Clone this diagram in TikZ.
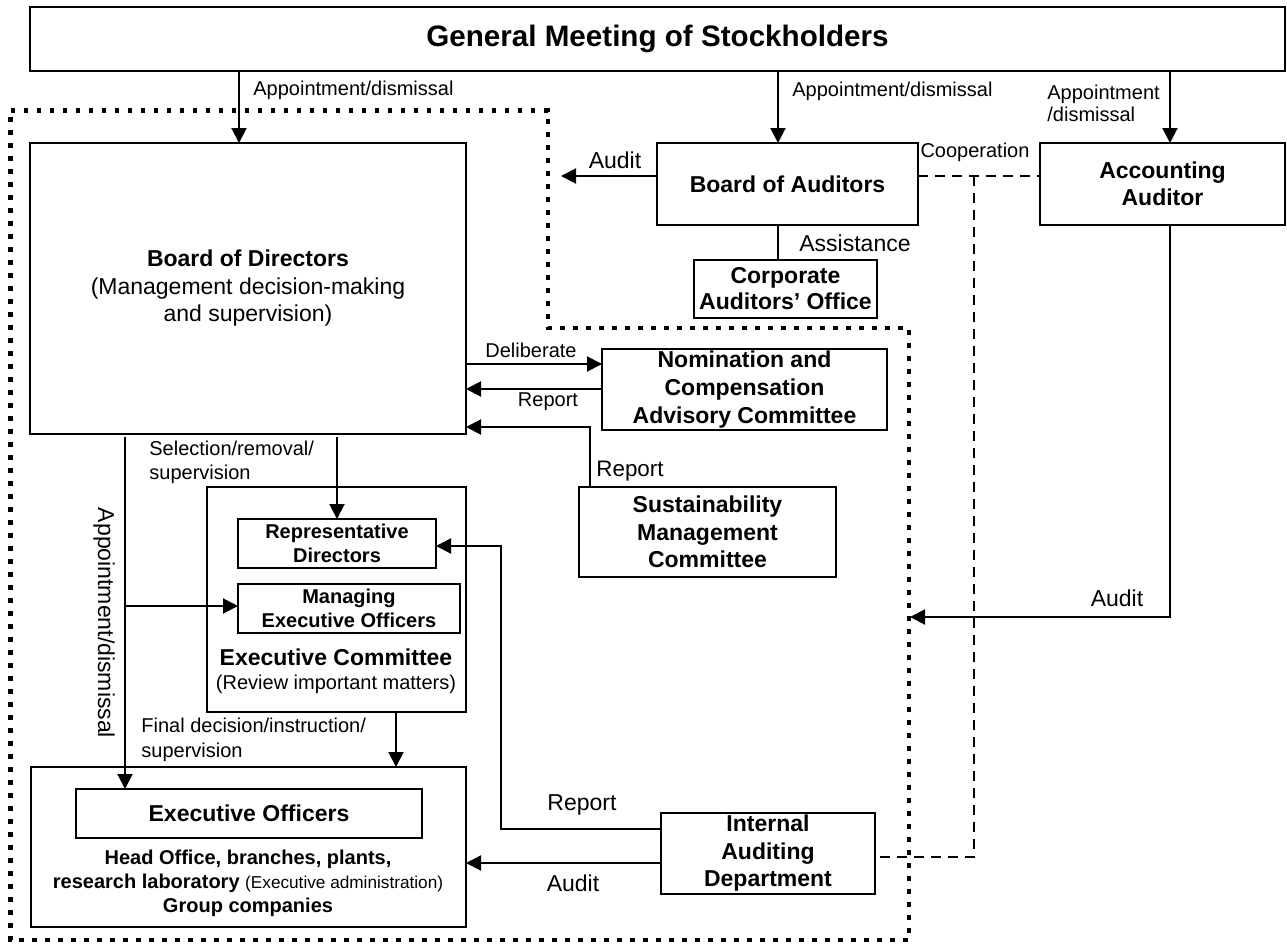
\documentclass[tikz,border=0pt]{standalone}
\usepackage{fontspec}
\setmainfont{Liberation Sans}
\usetikzlibrary{arrows.meta,calc}
\newcommand\mkbox[7]{\node[box,#6,minimum width={(#4-#2)*0.5pt},minimum height={(#5-#3)*0.5pt}] (#1) at ({(#2+#4)/2},{(#3+#5)/2}) {#7};}
\begin{document}
\begin{tikzpicture}[x=0.5pt,y=-0.5pt,
  box/.style={draw,line width=1pt,inner sep=0pt,outer sep=0pt,align=center},
  arr/.style={line width=1pt,-{Triangle[length=7.5pt,width=7.5pt]}},
  ln/.style={line width=1pt},
  coop/.style={line width=1pt,dash pattern=on 5pt off 3.5pt},
  dots/.style={line width=2.3pt,dash pattern=on 2.3pt off 4.2pt},
  lab/.style={font=\fontsize{10}{12}\selectfont,inner sep=0pt,align=left},
  labL/.style={font=\fontsize{11.5}{13.5}\selectfont,inner sep=0pt,align=left},
  bt/.style={font=\bfseries\fontsize{11.5}{13.75}\selectfont},
  bs/.style={font=\bfseries\fontsize{10}{11.75}\selectfont}]
\useasboundingbox (0,0) rectangle (1287,944);

% dotted boundary
\draw[dots] (10.5,110.5) -- (548,110.5) -- (548,328) -- (909,328) -- (909,940) -- (10.5,940) -- cycle;

% boxes
\mkbox{GM}{30}{7}{1285}{71}{font=\bfseries\fontsize{14.8}{17}\selectfont}{General Meeting of Stockholders}
\mkbox{BoD}{30}{143}{466}{434}{font=\fontsize{11.5}{13.75}\selectfont}{\textbf{Board of Directors}\\(Management decision-making\\and supervision)}
\mkbox{BoA}{657}{143}{918}{225}{bt}{Board of Auditors}
\mkbox{AA}{1040}{143}{1285}{225}{bt}{Accounting\\Auditor}
\mkbox{CAO}{694}{260}{877}{318}{font=\bfseries\fontsize{11.5}{13}\selectfont}{Corporate\\Auditors’ Office}
\mkbox{NCAC}{602}{349}{887}{430}{font=\bfseries\fontsize{11.5}{14}\selectfont}{Nomination and\\Compensation\\Advisory Committee}
\mkbox{SMC}{579}{487}{836}{577}{bt}{Sustainability\\Management\\Committee}
\mkbox{ExCom}{207}{487}{466}{712}{}{}
\mkbox{RD}{238}{519}{436}{568}{bs}{Representative\\Directors}
\mkbox{MEO}{238}{584}{460}{633}{bs}{Managing\\Executive Officers}
\mkbox{EOout}{31}{767}{466}{927}{}{}
\mkbox{EOin}{76}{789}{422}{838}{bt}{Executive Officers}
\mkbox{IAD}{661}{813}{875}{894}{bt}{Internal\\Auditing\\Department}

% texts inside container boxes
\node[inner sep=0pt,align=center] (ExComT) at (336,671) {{\bfseries\fontsize{11.5}{11.5}\selectfont Executive Committee}\\[0pt]{\fontsize{10}{11.5}\selectfont (Review important matters)}};
\node[inner sep=0pt,align=center,font=\bfseries\fontsize{10}{12}\selectfont] (EOT) at (248,883) {Head Office, branches, plants,\\research laboratory {\mdseries\fontsize{8.6}{12}\selectfont (Executive administration)}\\Group companies};

% helper coordinates
\coordinate (xA) at (239,0);
\coordinate (xB) at (778,0);
\coordinate (xC) at (1170,0);
\coordinate (yAud) at (0,176);
\coordinate (xCoop) at (974,0);
\coordinate (yCoopB) at (0,857);
\coordinate (yDel) at (0,364);
\coordinate (yRep) at (0,389);
\coordinate (yRep2) at (0,427);
\coordinate (xSMC) at (590,0);
\coordinate (xSel) at (337,0);
\coordinate (xApp) at (125,0);
\coordinate (yMEO) at (0,606);
\coordinate (xFin) at (396,0);
\coordinate (yIADr) at (0,829);
\coordinate (xIADr) at (501,0);
\coordinate (yRD) at (0,546);
\coordinate (yIADa) at (0,863);
\coordinate (yAAa) at (0,617);
\coordinate (auditEnd) at (561,176);
\coordinate (aaEnd) at (910,617);

% connectors
\draw[arr] (GM.south -| xA) -- (BoD.north -| xA);
\draw[arr] (GM.south -| xB) -- (BoA.north -| xB);
\draw[arr] (GM.south -| xC) -- (AA.north -| xC);
\draw[arr] (BoA.west |- yAud) -- (auditEnd);
\draw[coop] (BoA.east |- yAud) -- (AA.west |- yAud);
\draw[coop] (xCoop |- yAud) -- (xCoop |- yCoopB) -- (IAD.east |- yCoopB);
\draw[ln] (BoA.south -| xB) -- (CAO.north -| xB);
\draw[arr] (BoD.east |- yDel) -- (NCAC.west |- yDel);
\draw[arr] (NCAC.west |- yRep) -- (BoD.east |- yRep);
\draw[arr] (SMC.north -| xSMC) -- (xSMC |- yRep2) -- (BoD.east |- yRep2);
\draw[arr,shorten <=1.5pt] (BoD.south -| xSel) -- (RD.north -| xSel);
\draw[arr,shorten <=1.5pt] (BoD.south -| xApp) -- (EOin.north -| xApp);
\draw[arr] (xApp |- yMEO) -- (MEO.west |- yMEO);
\draw[arr] (ExCom.south -| xFin) -- (EOout.north -| xFin);
\draw[arr] (IAD.west |- yIADr) -- (xIADr |- yIADr) -- (xIADr |- yRD) -- (RD.east |- yRD);
\draw[arr] (IAD.west |- yIADa) -- (EOout.east |- yIADa);
\draw[arr] (AA.south -| xC) -- (xC |- yAAa) -- (aaEnd);

% labels
\node[lab,anchor=west] (l1) at (253,90) {Appointment/dismissal};
\node[lab,anchor=west] (l2) at (792,91) {Appointment/dismissal};
\node[lab,anchor=west,font=\fontsize{10}{11}\selectfont] (l3) at (1047,103) {Appointment\\/dismissal};
\node[labL] (l4) at (615,160) {Audit};
\node[lab] (l5) at (975,152) {Cooperation};
\node[labL,anchor=west] (l6) at (799,243) {Assistance};
\node[lab] (l7) at (531,350) {Deliberate};
\node[lab] (l8) at (548,402) {Report};
\node[labL,anchor=west,font=\fontsize{11.2}{13}\selectfont] (l9) at (596,471) {Report};
\node[lab,anchor=west] (l10) at (149,462) {Selection/removal/\\supervision};
\node[labL,rotate=-90] (l11) at (104,623) {Appointment/dismissal};
\node[lab,anchor=west,font=\fontsize{10}{12.5}\selectfont] (l12) at (141,740) {Final decision/instruction/\\supervision};
\node[labL] (l13) at (582,805) {Report};
\node[labL] (l14) at (573,883) {Audit};
\node[labL] (l15) at (1117,598) {Audit};
\end{tikzpicture}
\end{document}
